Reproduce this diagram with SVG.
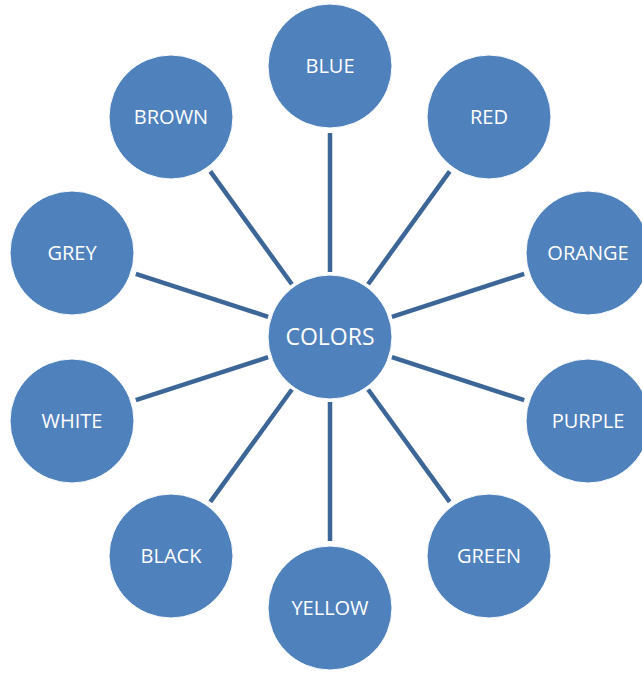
<svg xmlns="http://www.w3.org/2000/svg" width="642" height="675" viewBox="0 0 642 675">
<style>
.n{fill:#4f81bd;stroke:#ffffff;stroke-width:1}
.t{font-family:"Open Sans","Liberation Sans",sans-serif;font-size:20px;fill:#ffffff;text-anchor:middle}
.c{font-size:23px}
.l{stroke:#3d6698;stroke-width:4.5;fill:none}
</style>
<rect width="642" height="675" fill="#ffffff"/>
<g id="connectors">
<line class="l" x1="330" y1="272" x2="330" y2="133"/>
<line class="l" x1="368.1" y1="284.2" x2="449.7" y2="171.4"/>
<line class="l" x1="391.9" y1="316.8" x2="524.2" y2="273.8"/>
<line class="l" x1="391.9" y1="357.2" x2="524.2" y2="400.2"/>
<line class="l" x1="368.1" y1="389.5" x2="449.7" y2="501.9"/>
<line class="l" x1="330" y1="402" x2="330" y2="541"/>
<line class="l" x1="291.9" y1="389.5" x2="210.3" y2="501.9"/>
<line class="l" x1="268.1" y1="357.2" x2="135.8" y2="400.2"/>
<line class="l" x1="268.1" y1="316.8" x2="135.8" y2="273.8"/>
<line class="l" x1="291.9" y1="284.2" x2="210.3" y2="171.4"/>
</g>
<g id="colors"><circle class="n" cx="330" cy="337" r="62"/><text class="t c" x="330" y="345">COLORS</text></g>
<g id="blue"><circle class="n" cx="330" cy="66" r="62"/><text class="t" x="330" y="73">BLUE</text></g>
<g id="red"><circle class="n" cx="489" cy="117" r="62"/><text class="t" x="489" y="124">RED</text></g>
<g id="orange"><circle class="n" cx="588" cy="253" r="62"/><text class="t" x="588" y="260">ORANGE</text></g>
<g id="purple"><circle class="n" cx="588" cy="421" r="62"/><text class="t" x="588" y="428">PURPLE</text></g>
<g id="green"><circle class="n" cx="489" cy="556" r="62"/><text class="t" x="489" y="563">GREEN</text></g>
<g id="yellow"><circle class="n" cx="330" cy="608" r="62"/><text class="t" x="330" y="615">YELLOW</text></g>
<g id="black"><circle class="n" cx="171" cy="556" r="62"/><text class="t" x="171" y="563">BLACK</text></g>
<g id="white"><circle class="n" cx="72" cy="421" r="62"/><text class="t" x="72" y="428">WHITE</text></g>
<g id="grey"><circle class="n" cx="72" cy="253" r="62"/><text class="t" x="72" y="260">GREY</text></g>
<g id="brown"><circle class="n" cx="171" cy="117" r="62"/><text class="t" x="171" y="124">BROWN</text></g>
</svg>
